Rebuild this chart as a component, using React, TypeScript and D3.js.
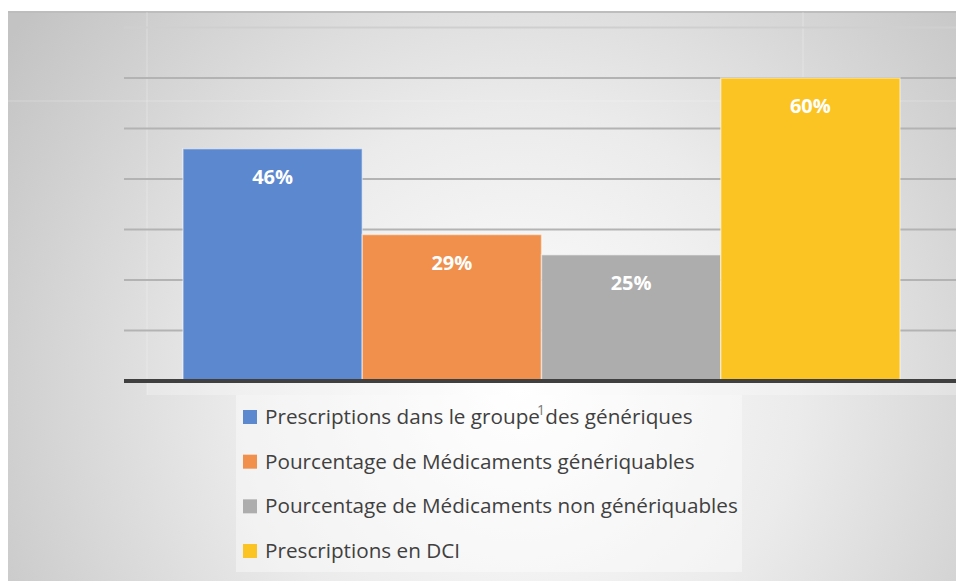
import React from "react";
import * as d3 from "d3";

const categories = [
  "Prescriptions dans le groupe des génériques",
  "Pourcentage de Médicaments génériquables",
  "Pourcentage de Médicaments non génériquables",
  "Prescriptions en DCI",
];
const values = [46, 29, 25, 60];
const colors = ["#5b88cf", "#f0904c", "#adadad", "#fbc423"];
const gridTicks = [0, 10, 20, 30, 40, 50, 60, 70];

const W = 956;
const H = 581;

export default function App() {
  const y = d3.scaleLinear().domain([0, 70]).range([381, 27.5]);
  const x = d3.scaleBand<string>().domain(categories).range([183, 900]).padding(0);
  const legendRow = d3.scaleLinear().domain([0, 3]).range([417, 551]);

  return (
    <svg
      width={W}
      height={H}
      style={{ position: "absolute", left: 0, top: 0, background: "#fff" }}
    >
      <defs>
        <radialGradient id="bg" cx="520" cy="390" r="620" gradientUnits="userSpaceOnUse">
          <stop offset="0" stopColor="#ffffff" />
          <stop offset="0.45" stopColor="#ebebeb" />
          <stop offset="1" stopColor="#c3c3c3" />
        </radialGradient>
      </defs>
      <rect x={8} y={11} width={W - 8} height={H - 11} fill="url(#bg)" />
      <line x1={8} x2={W} y1={12} y2={12} stroke="#bdbdbd" strokeWidth={2} />
      {/* faint overlay artifacts */}
      <line x1={147} x2={147} y1={12} y2={395} stroke="#ffffff" strokeOpacity={0.3} />
      <line x1={8} x2={W} y1={101} y2={101} stroke="#ffffff" strokeOpacity={0.25} />
      <line x1={803} x2={803} y1={12} y2={381} stroke="#ffffff" strokeOpacity={0.3} />
      <rect x={147} y={383} width={W - 147} height={12} fill="#ffffff" opacity={0.25} />

      {gridTicks.slice(1).map((t) => (
        <line
          key={t}
          x1={124}
          x2={W}
          y1={y(t)}
          y2={y(t)}
          stroke={t === 70 ? "#cfcfcf" : "#b3b3b3"}
          strokeWidth={2}
        />
      ))}

      {categories.map((c, i) => (
        <g key={c}>
          <rect
            x={x(c)!}
            y={y(values[i])}
            width={x.bandwidth()}
            height={y(0) - y(values[i])}
            fill={colors[i]}
            stroke="#ffffff"
            strokeOpacity={0.45}
            strokeWidth={1.5}
          />
          <text
            x={x(c)! + x.bandwidth() / 2}
            y={y(values[i]) + 35}
            textAnchor="middle"
            fill="#ffffff"
            fontFamily="'Open Sans', sans-serif"
            fontWeight="bold"
            fontSize={20}
          >
            {values[i]}%
          </text>
        </g>
      ))}

      <line x1={124} x2={W} y1={y(0)} y2={y(0)} stroke="#404040" strokeWidth={4} />

      <rect x={236} y={395} width={506} height={177} fill="#ffffff" opacity={0.4} />
      {categories.map((c, i) => (
        <g key={c} transform={`translate(0,${legendRow(i)})`}>
          <rect x={243} y={-7} width={14} height={14} fill={colors[i]} />
          <text
            x={265}
            y={7}
            fill="#404040"
            fontFamily="'Open Sans', sans-serif"
            fontSize={20.7}
          >
            {c}
          </text>
        </g>
      ))}
      <text x={537} y={415} fill="#7a7a7a" fontFamily="'Open Sans', sans-serif" fontSize={14}>
        1
      </text>
    </svg>
  );
}
